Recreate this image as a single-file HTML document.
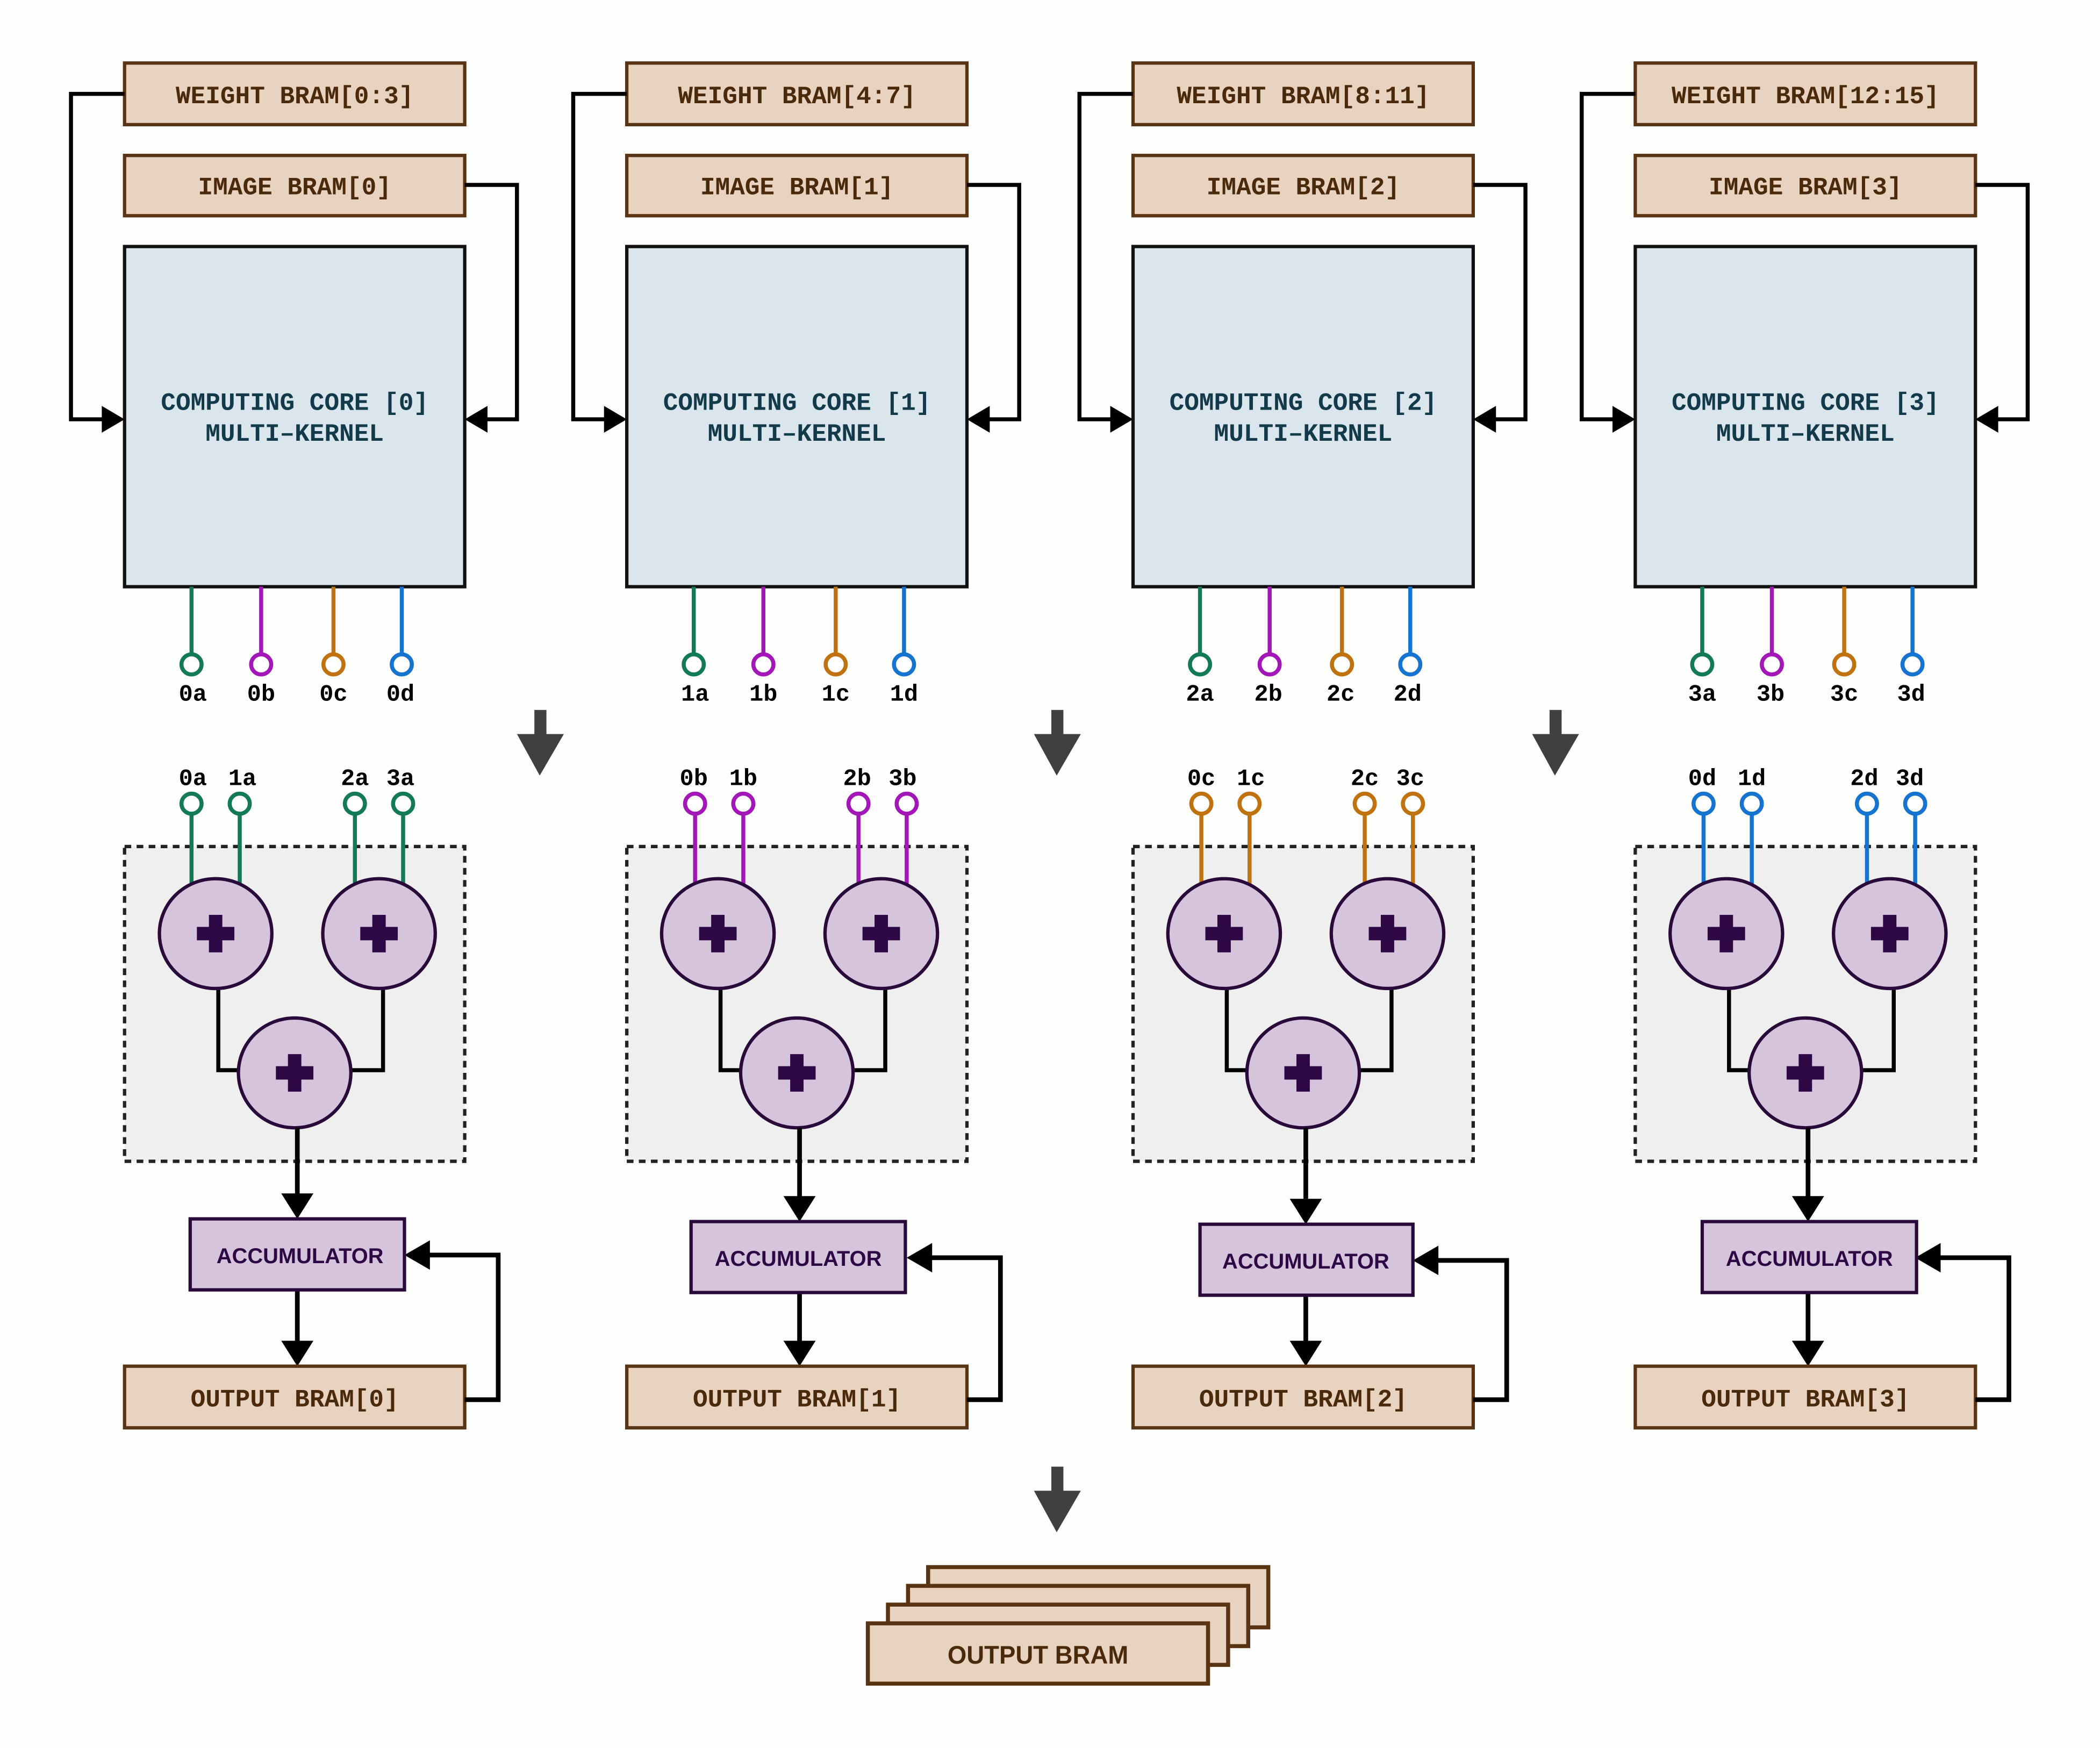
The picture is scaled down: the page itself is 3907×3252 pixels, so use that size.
<!DOCTYPE html>
<html><head><meta charset="utf-8"><style>
html,body{margin:0;padding:0;background:#fefefc;}
svg{display:block;}
.m{font-family:"Liberation Mono","DejaVu Sans Mono",monospace;font-weight:bold;}
.s{font-family:"Liberation Sans","DejaVu Sans",sans-serif;font-weight:bold;}
</style></head><body>
<svg width="3907" height="3252" viewBox="0 0 1568 1305" xmlns="http://www.w3.org/2000/svg">
<defs>
<g id="col">
  <rect x="93" y="47" width="254" height="46" fill="#e8d3c0" stroke="#5a3312" stroke-width="2.5"/>
  <rect x="93" y="116" width="254" height="45" fill="#e8d3c0" stroke="#5a3312" stroke-width="2.5"/>
  <rect x="93" y="184" width="254" height="254" fill="#dae6ec" stroke="#111" stroke-width="2.5"/>
  <polyline points="93,70 53,70 53,313 78,313" fill="none" stroke="#000" stroke-width="3"/>
  <polygon points="93,313 76,303 76,323" fill="#000"/>
  <polyline points="347,138 386,138 386,313 362,313" fill="none" stroke="#000" stroke-width="3"/>
  <polygon points="347,313 364,303 364,323" fill="#000"/>
  <g stroke-width="3" fill="#fff">
    <line x1="143" y1="438" x2="143" y2="488" stroke="#127a55"/><circle cx="143" cy="496" r="7.5" stroke="#127a55"/>
    <line x1="195" y1="438" x2="195" y2="488" stroke="#a316b8"/><circle cx="195" cy="496" r="7.5" stroke="#a316b8"/>
    <line x1="249" y1="438" x2="249" y2="488" stroke="#c0720f"/><circle cx="249" cy="496" r="7.5" stroke="#c0720f"/>
    <line x1="300" y1="438" x2="300" y2="488" stroke="#1574d0"/><circle cx="300" cy="496" r="7.5" stroke="#1574d0"/>
  </g>
  <rect x="93" y="632" width="254" height="235" fill="#efefef" stroke="#222" stroke-width="2.5" stroke-dasharray="5,4"/>
  <polyline points="163,730 163,799 180,799" fill="none" stroke="#000" stroke-width="3"/>
  <polyline points="286,730 286,799 260,799" fill="none" stroke="#000" stroke-width="3"/>
  <ellipse cx="220" cy="801" rx="42" ry="41" fill="#d5c4dc" stroke="#2a0a3a" stroke-width="2.5"/>
  <rect x="206" y="796" width="28" height="10" fill="#2d0845"/><rect x="215" y="787" width="10" height="28" fill="#2d0845"/>
  <line x1="222" y1="842" x2="222" y2="895" stroke="#000" stroke-width="3.5"/>
  <line x1="222" y1="963" x2="222" y2="1003" stroke="#000" stroke-width="3.5"/>
  <polygon points="222,1020 210,1001 234,1001" fill="#000"/>
  <rect x="93" y="1020" width="254" height="46" fill="#e8d3c0" stroke="#5a3312" stroke-width="2.5"/>
</g>
</defs>

<use href="#col" x="0"/>
<use href="#col" x="375"/>
<use href="#col" x="753"/>
<use href="#col" x="1128"/>

<g fill="none" stroke="#000" stroke-width="3.5">
<polyline points="347,1045 372,1045 372,937 318,937"/>
<polyline points="722,1045 747,1045 747,939 693,939"/>
<polyline points="1100,1045 1125,1045 1125,941 1071,941"/>
<polyline points="1475,1045 1500,1045 1500,939 1446,939"/>
</g>
<g fill="#000">
<polygon points="222,910 210,891 234,891"/><polygon points="302,937 321,926 321,948"/>
<polygon points="597,912 585,893 609,893"/><polygon points="677,939 696,928 696,950"/>
<polygon points="975,914 963,895 987,895"/><polygon points="1055,941 1074,930 1074,952"/>
<polygon points="1350,912 1338,893 1362,893"/><polygon points="1430,939 1449,928 1449,950"/>
</g>
<g fill="#d5c4dc" stroke="#2a0a3a" stroke-width="2.5">
<rect x="142" y="910" width="160" height="53"/>
<rect x="516" y="912" width="160" height="53"/>
<rect x="896" y="914" width="159" height="53"/>
<rect x="1271" y="912" width="160" height="53"/>
</g>
<g class="s" font-size="16" fill="#2d0845" text-anchor="middle">
<text x="224" y="943">ACCUMULATOR</text>
<text x="596" y="945">ACCUMULATOR</text>
<text x="975" y="947">ACCUMULATOR</text>
<text x="1351" y="945">ACCUMULATOR</text>
</g>

<g stroke-width="3" fill="#fff">
<g stroke="#127a55"><line x1="143" y1="608" x2="143" y2="660"/><line x1="179" y1="608" x2="179" y2="660"/><line x1="265" y1="608" x2="265" y2="660"/><line x1="301" y1="608" x2="301" y2="660"/>
<circle cx="143" cy="600" r="7.5"/><circle cx="179" cy="600" r="7.5"/><circle cx="265" cy="600" r="7.5"/><circle cx="301" cy="600" r="7.5"/></g>
<g stroke="#a316b8"><line x1="519" y1="608" x2="519" y2="660"/><line x1="555" y1="608" x2="555" y2="660"/><line x1="641" y1="608" x2="641" y2="660"/><line x1="677" y1="608" x2="677" y2="660"/>
<circle cx="519" cy="600" r="7.5"/><circle cx="555" cy="600" r="7.5"/><circle cx="641" cy="600" r="7.5"/><circle cx="677" cy="600" r="7.5"/></g>
<g stroke="#c0720f"><line x1="897" y1="608" x2="897" y2="660"/><line x1="933" y1="608" x2="933" y2="660"/><line x1="1019" y1="608" x2="1019" y2="660"/><line x1="1055" y1="608" x2="1055" y2="660"/>
<circle cx="897" cy="600" r="7.5"/><circle cx="933" cy="600" r="7.5"/><circle cx="1019" cy="600" r="7.5"/><circle cx="1055" cy="600" r="7.5"/></g>
<g stroke="#1574d0"><line x1="1272" y1="608" x2="1272" y2="660"/><line x1="1308" y1="608" x2="1308" y2="660"/><line x1="1394" y1="608" x2="1394" y2="660"/><line x1="1430" y1="608" x2="1430" y2="660"/>
<circle cx="1272" cy="600" r="7.5"/><circle cx="1308" cy="600" r="7.5"/><circle cx="1394" cy="600" r="7.5"/><circle cx="1430" cy="600" r="7.5"/></g>
</g>
<g fill="#d5c4dc" stroke="#2a0a3a" stroke-width="2.5">
<ellipse cx="161" cy="697" rx="42" ry="41"/><ellipse cx="283" cy="697" rx="42" ry="41"/>
<ellipse cx="536" cy="697" rx="42" ry="41"/><ellipse cx="658" cy="697" rx="42" ry="41"/>
<ellipse cx="914" cy="697" rx="42" ry="41"/><ellipse cx="1036" cy="697" rx="42" ry="41"/>
<ellipse cx="1289" cy="697" rx="42" ry="41"/><ellipse cx="1411" cy="697" rx="42" ry="41"/>
</g>
<g fill="#2d0845">
<rect x="147" y="692" width="28" height="10"/><rect x="156" y="683" width="10" height="28"/>
<rect x="269" y="692" width="28" height="10"/><rect x="278" y="683" width="10" height="28"/>
<rect x="522" y="692" width="28" height="10"/><rect x="531" y="683" width="10" height="28"/>
<rect x="644" y="692" width="28" height="10"/><rect x="653" y="683" width="10" height="28"/>
<rect x="900" y="692" width="28" height="10"/><rect x="909" y="683" width="10" height="28"/>
<rect x="1022" y="692" width="28" height="10"/><rect x="1031" y="683" width="10" height="28"/>
<rect x="1275" y="692" width="28" height="10"/><rect x="1284" y="683" width="10" height="28"/>
<rect x="1397" y="692" width="28" height="10"/><rect x="1406" y="683" width="10" height="28"/>
</g>

<g class="m" font-size="18.5" fill="#4a2a0a" text-anchor="middle">
<text x="220" y="77">WEIGHT BRAM[0:3]</text><text x="220" y="145">IMAGE BRAM[0]</text><text x="220" y="1050">OUTPUT BRAM[0]</text>
<text x="595" y="77">WEIGHT BRAM[4:7]</text><text x="595" y="145">IMAGE BRAM[1]</text><text x="595" y="1050">OUTPUT BRAM[1]</text>
<text x="973" y="77">WEIGHT BRAM[8:11]</text><text x="973" y="145">IMAGE BRAM[2]</text><text x="973" y="1050">OUTPUT BRAM[2]</text>
<text x="1348" y="77">WEIGHT BRAM[12:15]</text><text x="1348" y="145">IMAGE BRAM[3]</text><text x="1348" y="1050">OUTPUT BRAM[3]</text>
</g>
<g class="m" font-size="18.5" fill="#123a4a" text-anchor="middle">
<text x="220" y="306">COMPUTING CORE [0]</text><text x="220" y="329">MULTI–KERNEL</text>
<text x="595" y="306">COMPUTING CORE [1]</text><text x="595" y="329">MULTI–KERNEL</text>
<text x="973" y="306">COMPUTING CORE [2]</text><text x="973" y="329">MULTI–KERNEL</text>
<text x="1348" y="306">COMPUTING CORE [3]</text><text x="1348" y="329">MULTI–KERNEL</text>
</g>
<g class="m" font-size="17.5" fill="#000" text-anchor="middle">
<text x="144" y="523">0a</text><text x="195" y="523">0b</text><text x="249" y="523">0c</text><text x="299" y="523">0d</text>
<text x="519" y="523">1a</text><text x="570" y="523">1b</text><text x="624" y="523">1c</text><text x="675" y="523">1d</text>
<text x="896" y="523">2a</text><text x="947" y="523">2b</text><text x="1001" y="523">2c</text><text x="1051" y="523">2d</text>
<text x="1271" y="523">3a</text><text x="1322" y="523">3b</text><text x="1377" y="523">3c</text><text x="1427" y="523">3d</text>
<text x="144" y="586">0a</text><text x="181" y="586">1a</text><text x="265" y="586">2a</text><text x="299" y="586">3a</text>
<text x="518" y="586">0b</text><text x="555" y="586">1b</text><text x="640" y="586">2b</text><text x="674" y="586">3b</text>
<text x="897" y="586">0c</text><text x="934" y="586">1c</text><text x="1019" y="586">2c</text><text x="1053" y="586">3c</text>
<text x="1271" y="586">0d</text><text x="1308" y="586">1d</text><text x="1392" y="586">2d</text><text x="1426" y="586">3d</text>
</g>

<g fill="#404040">
<rect x="399" y="530" width="9" height="20"/><polygon points="386,548 421,548 403,579"/>
<rect x="785" y="530" width="9" height="20"/><polygon points="772,548 807,548 789,579"/>
<rect x="1157" y="530" width="9" height="20"/><polygon points="1144,548 1179,548 1161,579"/>
<rect x="785" y="1095" width="9" height="20"/><polygon points="772,1113 807,1113 789,1144"/>
</g>

<g fill="#e8d3c0" stroke="#5a3312" stroke-width="3">
<rect x="693" y="1170" width="254" height="45"/>
<rect x="678" y="1184" width="254" height="45"/>
<rect x="663" y="1198" width="254" height="45"/>
<rect x="648" y="1212" width="254" height="45"/>
</g>
<text x="775" y="1242" class="s" font-size="19" fill="#4a2a0a" text-anchor="middle" textLength="135" lengthAdjust="spacingAndGlyphs">OUTPUT BRAM</text>
</svg>
</body></html>
